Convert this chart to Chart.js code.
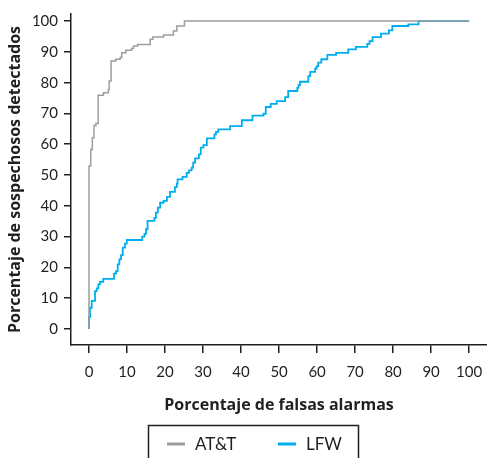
<!DOCTYPE html>
<html>
<head>
<meta charset="utf-8">
<script src="https://cdn.jsdelivr.net/npm/chart.js@4"></script>
<style>
  html, body { margin: 0; padding: 0; background: #fff; }
  #wrap { width: 487px; height: 458px; }
</style>
</head>
<body>
<div id="wrap"><canvas id="graph--roc"></canvas></div>
<script>
// ROC curves: % false alarms (x) vs % suspects detected (y)
const TICKS = [0, 10, 20, 30, 40, 50, 60, 70, 80, 90, 100];

const attX = [0, 0, 0.45, 0.87, 1.3, 1.8, 2.4, 3.8, 5.1, 5.3, 5.8, 7.0, 8.2, 8.6, 9.7, 11.2, 11.7, 12.8, 16.1, 16.8, 19.6, 22.2, 23.1, 25.1, 100];
const attY = [0, 52.9, 58.3, 62.1, 66.1, 66.7, 75.9, 76.7, 77.8, 80.5, 87.0, 87.6, 88.2, 89.7, 90.5, 91.1, 91.9, 92.4, 94.1, 94.8, 95.5, 96.8, 98.4, 100, 100];

const lfwX = [0, 0, 0.26, 0.71, 1.58, 2.03, 2.45, 2.89, 3.76, 6.58, 7.1, 7.55, 7.97, 8.42, 8.87, 9.47, 9.92,
  14.0, 14.6, 15.0, 15.4, 17.2, 17.6, 18.1, 18.7, 19.6, 20.5, 21.3, 22.6, 23.1, 23.3, 24.6, 25.7, 26.3,
  27.0, 27.4, 27.9, 28.9, 29.4, 30.1, 31.0, 33.0, 33.4, 34.0, 37.1, 40.2, 43.0, 45.9, 46.5, 47.8, 49.4,
  51.6, 52.4, 54.8, 55.1, 55.5, 57.7, 58.2, 59.5, 59.9, 60.3, 61.1, 62.7, 65.0, 68.2, 70.2, 73.2, 73.8,
  74.6, 76.8, 78.9, 79.8, 84.0, 86.7, 100];
const lfwY = [0, 3.9, 6.9, 9.1, 12.3, 13.2, 14.5, 15.3, 16.3, 18.0, 18.8, 21.0, 22.6, 24.0, 26.4, 27.7, 28.9,
  30.0, 30.9, 32.4, 35.1, 36.1, 37.8, 39.4, 41.0, 41.6, 42.9, 44.5, 46.1, 47.2, 48.6, 49.4, 50.7, 51.5,
  52.4, 54.0, 55.4, 56.7, 58.9, 59.7, 61.9, 63.2, 64.0, 64.8, 65.9, 67.8, 69.3, 69.9, 72.1, 73.1, 74.0,
  75.3, 77.3, 78.3, 79.2, 80.3, 82.1, 83.5, 84.6, 85.4, 86.5, 87.6, 89.0, 89.7, 90.8, 91.6, 92.6, 93.5,
  94.8, 95.9, 97.0, 98.4, 98.9, 100, 100];

const SERIES = ["AT&T", "LFW"];
const COLORS = ["#9d9d9d", "#00aeef"];

const INK = "#231f20";
const FONT = "Lato, 'Open Sans', sans-serif";
const TITLE_FONT = "'Open Sans', Lato, sans-serif";

const toPoints = (xs, ys) => xs.map((x, i) => ({ x: x, y: ys[i] }));

// boxed legend drawn under the axes
const boxedLegend = {
  id: "boxedLegend",
  afterDraw(chart) {
    const ctx = chart.ctx;
    const top = 425;
    ctx.save();
    ctx.strokeStyle = INK;
    ctx.lineWidth = 1.5;
    ctx.strokeRect(148.5, top + 0.5, 210, 60);
    ctx.font = "17px " + FONT;
    ctx.textBaseline = "middle";
    ctx.fillStyle = INK;
    const items = [{ x: 167 }, { x: 278 }];
    chart.data.datasets.forEach((ds, i) => {
      const x = items[i].x;
      ctx.strokeStyle = ds.borderColor;
      ctx.lineWidth = 3;
      ctx.beginPath();
      ctx.moveTo(x, top + 19);
      ctx.lineTo(x + 18, top + 19);
      ctx.stroke();
      ctx.fillText(ds.label, x + 28, top + 20);
    });
    ctx.restore();
  }
};

new Chart(document.getElementById("graph--roc"), {
  type: "line",
  data: {
    datasets: [{
      label: SERIES[0],
      data: toPoints(attX, attY),
      borderColor: COLORS[0],
      backgroundColor: COLORS[0],
      borderWidth: 1.5,
      stepped: true,
      pointRadius: 0,
      fill: false
    }, {
      label: SERIES[1],
      data: toPoints(lfwX, lfwY),
      borderColor: COLORS[1],
      backgroundColor: COLORS[1],
      borderWidth: 1.8,
      stepped: true,
      pointRadius: 0,
      fill: false
    }]
  },
  options: {
    animation: false,
    responsive: true,
    maintainAspectRatio: false,
    layout: { padding: { top: 14, right: 0, bottom: 32, left: 0 } },
    plugins: {
      legend: { display: false },
      tooltip: { enabled: false }
    },
    scales: {
      x: {
        type: "linear",
        min: -4.74,
        max: 104.7,
        afterBuildTicks: s => { s.ticks = TICKS.map(v => ({ value: v })); },
        afterFit: s => { s.height = 81; s.paddingLeft = 0; s.paddingRight = 0; },
        grid: { drawOnChartArea: false, color: INK, lineWidth: 1.5, tickLength: 8 },
        border: { color: INK, width: 1.5 },
        ticks: { color: INK, font: { family: FONT, size: 15 }, padding: 10, maxRotation: 0 },
        title: {
          display: true,
          text: "Porcentaje de falsas alarmas",
          color: INK,
          font: { family: TITLE_FONT, size: 16, weight: "bold" },
          padding: { top: 4, bottom: 11 }
        }
      },
      y: {
        type: "linear",
        min: -5.2,
        max: 102.3,
        afterBuildTicks: s => { s.ticks = TICKS.map(v => ({ value: v })); },
        afterFit: s => { s.width = 71; s.paddingTop = 0; s.paddingBottom = 0; },
        grid: { drawOnChartArea: false, color: INK, lineWidth: 1.5, tickLength: 7 },
        border: { color: INK, width: 1.5 },
        ticks: { color: INK, font: { family: FONT, size: 15 }, padding: 6 },
        title: {
          display: true,
          text: "Porcentaje de sospechosos detectados",
          color: INK,
          font: { family: TITLE_FONT, size: 16, weight: "bold" },
          padding: { top: 6, bottom: 4 }
        }
      }
    }
  },
  plugins: [boxedLegend]
});
</script>
</body>
</html>
